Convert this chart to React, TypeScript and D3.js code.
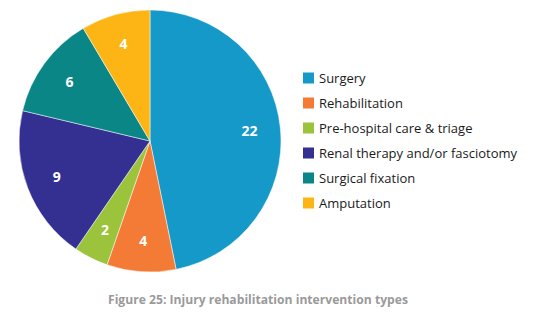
import React from "react";
import * as d3 from "d3";

const categories = ["Surgery", "Rehabilitation", "Pre-hospital care & triage", "Renal therapy and/or fasciotomy", "Surgical fixation", "Amputation"];
const values = [22, 4, 2, 9, 6, 4];
const colors = ["#1599c8", "#f47b36", "#9bc33c", "#333092", "#0a8686", "#fdb515"];
const title = "Figure 25: Injury rehabilitation intervention types";

export default function App() {
  const W = 556, H = 328;
  const cx = 150, cy = 141, r = 131;
  const data = categories.map((c, i) => ({ c, v: values[i], color: colors[i] }));
  const pie = d3.pie<any>().value((d) => d.v).sort(null);
  const arcs = pie(data);
  const arc = d3.arc<any>().innerRadius(0).outerRadius(r);
  const labelArc = d3.arc<any>().innerRadius(100).outerRadius(100);
  const font = "'Open Sans', 'Noto Sans', sans-serif";
  return (
    <svg width={W} height={H} style={{ position: "absolute", left: 0, top: 0, background: "#fff" }}>
      <g transform={`translate(${cx},${cy})`}>
        {arcs.map((a, i) => (
          <path key={i} d={arc(a) as string} fill={a.data.color} stroke="#fff" strokeWidth={0.5} />
        ))}
        {arcs.map((a, i) => {
          const [x, y] = labelArc.centroid(a);
          return (
            <text key={i} x={x} y={y} dy="0.35em" textAnchor="middle" fill="#fff" fontFamily={font} fontWeight={700} fontSize={14}>
              {a.data.v}
            </text>
          );
        })}
      </g>
      {data.map((d, i) => (
        <g key={i} transform={`translate(303,${78 + i * 25})`}>
          <rect x={0} y={-5.5} width={11} height={11} fill={d.color} />
          <text x={16} y={0} dy="0.35em" fontFamily={font} fontSize={13} fill="#1a1a1a">{d.c}</text>
        </g>
      ))}
      <text x={258} y={300} dy="0.35em" textAnchor="middle" fontFamily={font} fontWeight={700} fontSize={12} fill="#9a9a9a" textLength={300} lengthAdjust="spacingAndGlyphs">
        {title}
      </text>
    </svg>
  );
}
